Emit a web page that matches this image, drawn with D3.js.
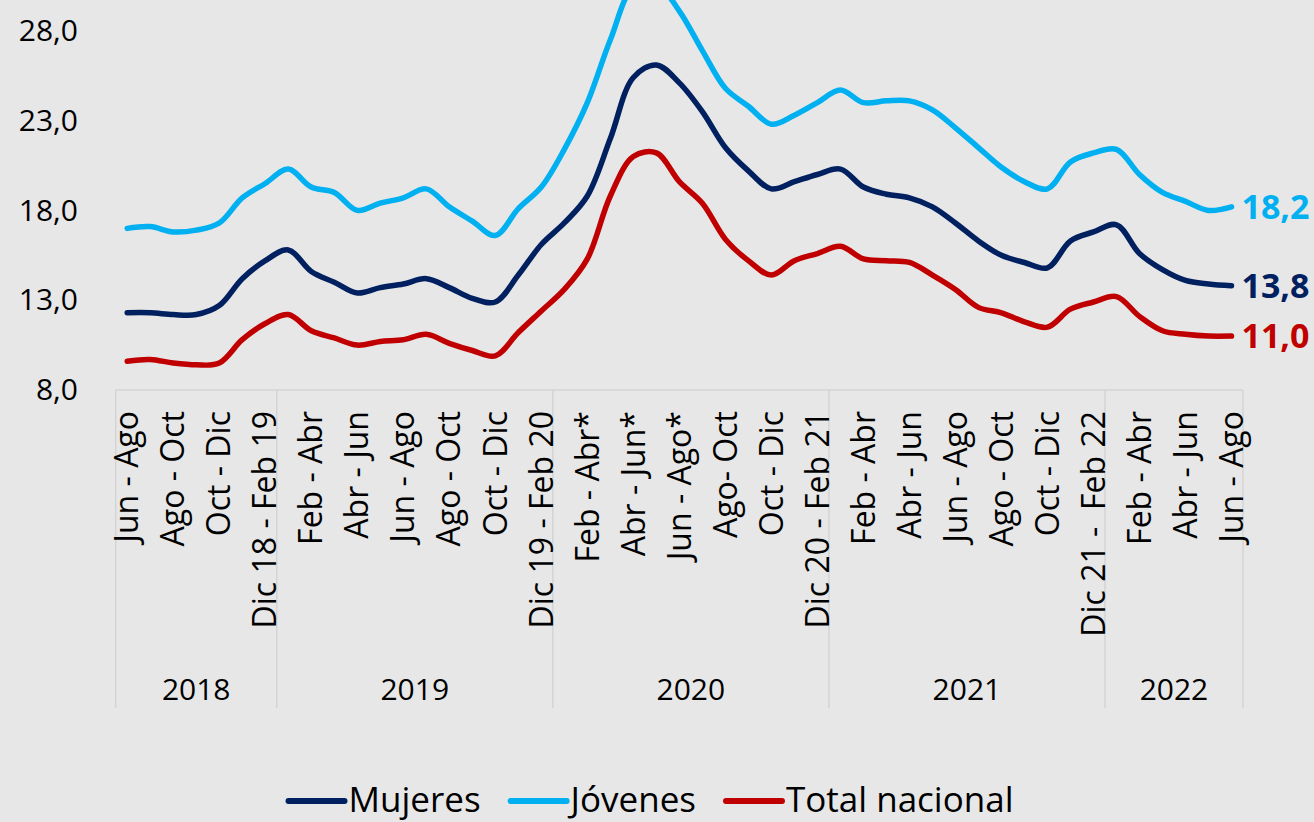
<!DOCTYPE html>
<html>
<head>
<meta charset="utf-8">
<script src="https://cdn.jsdelivr.net/npm/d3@7"></script>
<style>
  body { margin: 0; background: #e7e7e7; }
  svg { display: block; }
</style>
</head>
<body>
<div id="my_dataviz"></div>
<script>

// rolling quarters, one per month
var categories = [
  "Jun - Ago", "Jul - Sep", "Ago - Oct", "Sep - Nov", "Oct - Dic", "Nov - Ene", "Dic 18 - Feb 19",
  "Ene - Mar", "Feb - Abr", "Mar - May", "Abr - Jun", "May - Jul", "Jun - Ago", "Jul - Sep", "Ago - Oct", "Sep - Nov", "Oct - Dic", "Nov - Ene", "Dic 19 - Feb 20",
  "Ene - Mar*", "Feb - Abr*", "Mar - May*", "Abr - Jun*", "May - Jul*", "Jun - Ago*", "Jul - Sep", "Ago- Oct", "Sep - Nov", "Oct - Dic", "Nov - Ene", "Dic 20 - Feb 21",
  "Ene - Mar", "Feb - Abr", "Mar - May", "Abr - Jun", "May - Jul", "Jun - Ago", "Jul - Sep", "Ago - Oct", "Sep - Nov", "Oct - Dic", "Nov - Ene", "Dic 21 -  Feb 22",
  "Ene - Mar", "Feb - Abr", "Mar - May", "Abr - Jun", "May - Jul", "Jun - Ago"
];

// year groups under the labels (how many months each)
var years = ["2018", "2019", "2020", "2021", "2022"];
var yearSizes = [7, 12, 12, 12, 6];

var mujeres = [
  12.3, 12.3, 12.2, 12.2, 12.7, 14.2, 15.2,
  15.8, 14.6, 14.0, 13.4, 13.7, 13.9, 14.2, 13.7, 13.1, 12.9, 14.4, 16.1,
  17.3, 18.8, 22.0, 25.4, 26.1, 25.1, 23.5, 21.5, 20.2, 19.2, 19.6, 20.0,
  20.3, 19.3, 18.9, 18.7, 18.2, 17.3, 16.3, 15.5, 15.1, 14.8, 16.3, 16.8,
  17.2, 15.6, 14.7, 14.1, 13.9, 13.8
];

var jovenes = [
  17.0, 17.1, 16.8, 16.9, 17.3, 18.7, 19.5,
  20.3, 19.3, 19.0, 18.0, 18.4, 18.7, 19.2, 18.2, 17.4, 16.6, 18.1, 19.3,
  21.4, 24.0, 27.5, 30.4, 30.6, 29.1, 26.9, 24.8, 23.8, 22.8, 23.3, 24.0,
  24.7, 24.0, 24.1, 24.1, 23.6, 22.6, 21.5, 20.4, 19.6, 19.2, 20.7, 21.2,
  21.4, 20.0, 19.0, 18.5, 18.0, 18.2
];

var total = [
  9.6, 9.7, 9.5, 9.4, 9.5, 10.8, 11.7,
  12.2, 11.3, 10.9, 10.5, 10.7, 10.8, 11.1, 10.6, 10.2, 9.9, 11.2, 12.4,
  13.6, 15.3, 18.8, 21.0, 21.2, 19.6, 18.4, 16.4, 15.2, 14.4, 15.2, 15.6,
  16.0, 15.3, 15.2, 15.1, 14.4, 13.6, 12.6, 12.3, 11.8, 11.5, 12.5, 12.9,
  13.2, 12.1, 11.3, 11.1, 11.0, 11.0
];

var yTicks = [8, 13, 18, 23, 28];

var seriesNames = ["Mujeres", "Jóvenes", "Total nacional"];
var seriesColors = ["#002060", "#00b0f0", "#c00000"];

var series = [
  {name: seriesNames[0], values: mujeres, color: seriesColors[0]},
  {name: seriesNames[1], values: jovenes, color: seriesColors[1]},
  {name: seriesNames[2], values: total, color: seriesColors[2]}
];

var fullWidth = 1314, fullHeight = 822;
var font = '"Open Sans", sans-serif';

var svg = d3.select("#my_dataviz").append("svg")
    .attr("width", fullWidth)
    .attr("height", fullHeight);

svg.append("rect")
    .attr("width", fullWidth)
    .attr("height", fullHeight)
    .attr("fill", "#e7e7e7");

// set the ranges
var x = d3.scaleBand()
    .domain(d3.range(categories.length))
    .range([115.7, 1243])
    .padding(0);

var y = d3.scaleLinear()
    .domain([8, 28])
    .range([390, 30.8]);

function xc(i) { return x(i) + x.bandwidth() / 2; }

// y axis, labels only
var yAxis = svg.append("g")
    .attr("class", "y axis")
    .attr("transform", "translate(78,0)")
    .call(d3.axisLeft(y)
      .tickValues(yTicks)
      .tickSize(0)
      .tickPadding(0)
      .tickFormat(function(d) { return d3.format(".1f")(d).replace(".", ","); }));

yAxis.select(".domain").remove();
yAxis.selectAll("text")
    .style("font-family", font)
    .style("font-size", "30px")
    .attr("fill", "#000");

// x axis line
svg.append("line")
    .attr("x1", x.range()[0])
    .attr("x2", x.range()[1])
    .attr("y1", y(8))
    .attr("y2", y(8))
    .attr("stroke", "#d4d4d4")
    .attr("stroke-width", 1.5);

// year separators and year labels
var start = 0;
var bounds = [0];
yearSizes.forEach(function(n) { start += n; bounds.push(start); });

function boundX(b) { return b < categories.length ? x(b) : x.range()[1]; }

svg.selectAll(".sep")
    .data(bounds)
    .enter().append("line")
    .attr("class", "sep")
    .attr("x1", function(d) { return boundX(d); })
    .attr("x2", function(d) { return boundX(d); })
    .attr("y1", y(8))
    .attr("y2", 708)
    .attr("stroke", "#d4d4d4")
    .attr("stroke-width", 1.5);

svg.selectAll(".year")
    .data(years)
    .enter().append("text")
    .attr("class", "year")
    .attr("x", function(d, i) { return (boundX(bounds[i]) + boundX(bounds[i + 1])) / 2; })
    .attr("y", 700)
    .attr("text-anchor", "middle")
    .style("font-family", font)
    .style("font-size", "30px")
    .text(function(d) { return d; });

// category labels, every other month
var shown = d3.range(categories.length).filter(function(i) { return i % 2 === 0; });

svg.selectAll(".cat")
    .data(shown)
    .enter().append("text")
    .attr("class", "cat")
    .attr("transform", function(i) { return "translate(" + xc(i) + ",411) rotate(-90)"; })
    .attr("dy", "0.35em")
    .attr("text-anchor", "end")
    .style("font-family", font)
    .style("font-size", "32px")
    .style("white-space", "pre")
    .text(function(i) { return categories[i]; });

// the lines
var line = d3.line()
    .x(function(d, i) { return xc(i); })
    .y(function(d) { return y(d); })
    .curve(d3.curveCatmullRom.alpha(0.5));

svg.selectAll(".series")
    .data(series)
    .enter().append("path")
    .attr("class", "series")
    .attr("d", function(d) { return line(d.values); })
    .attr("fill", "none")
    .attr("stroke", function(d) { return d.color; })
    .attr("stroke-width", 5.5)
    .attr("stroke-linecap", "round")
    .attr("stroke-linejoin", "round");

// last value labels
var last = categories.length - 1;
svg.selectAll(".endlabel")
    .data(series)
    .enter().append("text")
    .attr("class", "endlabel")
    .attr("x", xc(last) + 10)
    .attr("y", function(d) { return y(d.values[last]); })
    .attr("dy", "0.36em")
    .style("font-family", font)
    .style("font-size", "34px")
    .style("font-weight", "700")
    .attr("fill", function(d) { return d.color; })
    .text(function(d) { return d3.format(".1f")(d.values[last]).replace(".", ","); });

// legend
var legend = svg.append("g").attr("class", "legend");
var lx = 0;
series.forEach(function(s) {
  legend.append("line")
      .attr("x1", lx).attr("x2", lx + 56)
      .attr("y1", 801).attr("y2", 801)
      .attr("stroke", s.color)
      .attr("stroke-width", 6)
      .attr("stroke-linecap", "round");
  var t = legend.append("text")
      .attr("x", lx + 60)
      .attr("y", 812)
      .style("font-family", font)
      .style("font-size", "35px")
      .text(s.name);
  lx += 60 + t.node().getComputedTextLength() + 30;
});
lx -= 30;
legend.attr("transform", "translate(" + (651 - lx / 2) + ",0)");

</script>
</body>
</html>
